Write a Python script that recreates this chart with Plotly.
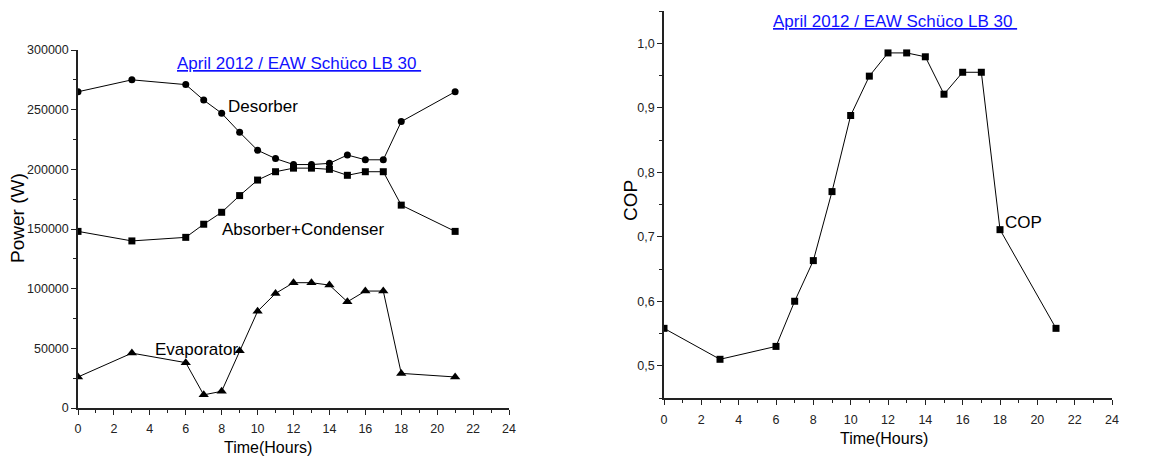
import plotly.graph_objects as go

hours = [0, 3, 6, 7, 8, 9, 10, 11, 12, 13, 14, 15, 16, 17, 18, 21]
desorber = [265000, 275000, 271000, 258000, 247000, 231000, 216000, 209000,
            204000, 204000, 205000, 212000, 208000, 208000, 240000, 265000]
absorber_condenser = [148000, 140000, 143000, 154000, 164000, 178000, 191000, 198000,
                      201000, 201000, 200000, 195000, 198000, 198000, 170000, 148000]
evaporator = [26000, 46000, 38000, 11000, 14000, 48000, 81000, 96000,
              105000, 105000, 103000, 89000, 98000, 98000, 29000, 26000]
cop = [0.558, 0.510, 0.530, 0.600, 0.663, 0.770, 0.888, 0.949,
       0.985, 0.985, 0.979, 0.921, 0.955, 0.955, 0.711, 0.558]

x_ticks = list(range(0, 25, 2))
x_ticklabels = [str(v) for v in x_ticks]
power_ticks = [0, 50000, 100000, 150000, 200000, 250000, 300000]
power_ticklabels = ["0", "50000", "100000", "150000", "200000", "250000", "300000"]
cop_ticks = [0.5, 0.6, 0.7, 0.8, 0.9, 1.0]
cop_ticklabels = ["0,5", "0,6", "0,7", "0,8", "0,9", "1,0"]

title_text = "April 2012 / EAW Schüco LB 30"

FONT = "Liberation Sans, Arial, sans-serif"
line = dict(color="black", width=1)

fig = go.Figure()
fig.add_trace(go.Scatter(x=hours, y=desorber, mode="lines+markers", line=line,
                         marker=dict(symbol="circle", size=7, color="black"),
                         xaxis="x", yaxis="y", name="Desorber"))
fig.add_trace(go.Scatter(x=hours, y=absorber_condenser, mode="lines+markers", line=line,
                         marker=dict(symbol="square", size=7, color="black"),
                         xaxis="x", yaxis="y", name="Absorber+Condenser"))
fig.add_trace(go.Scatter(x=hours, y=evaporator, mode="lines+markers", line=line,
                         marker=dict(symbol="triangle-up", size=9, color="black"),
                         xaxis="x", yaxis="y", name="Evaporator"))
fig.add_trace(go.Scatter(x=hours, y=cop, mode="lines+markers", line=line,
                         marker=dict(symbol="square", size=7, color="black"),
                         xaxis="x2", yaxis="y2", name="COP"))

# page body has an 8px margin: the figure starts at (8, 8) in the window
OFF = 8
W, H = 1160 - OFF, 459 - OFF

def px_x(p):
    return (p - OFF) / W

def px_y(p):
    return 1 - (p - OFF) / H

axis_common = dict(showgrid=False, zeroline=False, showline=True, linecolor="#222",
                   linewidth=1.5, ticks="outside", ticklen=5, tickwidth=1.2, tickcolor="#222",
                   automargin=False,
                   tickfont=dict(family=FONT, size=12.5, color="#222"))

fig.update_layout(
    width=W, height=H, autosize=False,
    margin=dict(l=0, r=0, t=0, b=0),
    paper_bgcolor="white", plot_bgcolor="white",
    showlegend=False,
    font=dict(family=FONT, color="black"),
    xaxis=dict(domain=[px_x(78), px_x(509)], range=[0, 24], anchor="y",
               tickmode="array", tickvals=x_ticks, ticktext=x_ticklabels, ticklabelstandoff=3,
               minor=dict(tickmode="linear", tick0=0, dtick=1, ticks="outside", ticklen=3, tickcolor="#222"),
               **axis_common),
    yaxis=dict(domain=[px_y(408), px_y(50)], range=[0, 300000], anchor="x",
               tickmode="array", tickvals=power_ticks, ticktext=power_ticklabels,
               minor=dict(tickmode="linear", tick0=0, dtick=25000, ticks="outside", ticklen=3, tickcolor="#222"),
               **axis_common),
    xaxis2=dict(domain=[px_x(664), px_x(1112)], range=[0, 24], anchor="y2",
                tickmode="array", tickvals=x_ticks, ticktext=x_ticklabels, ticklabelstandoff=4,
                minor=dict(tickmode="linear", tick0=0, dtick=1, ticks="outside", ticklen=3, tickcolor="#222"),
                **axis_common),
    yaxis2=dict(domain=[px_y(398), px_y(11)], range=[0.45, 1.05], anchor="x2",
                tickmode="array", tickvals=cop_ticks, ticktext=cop_ticklabels,
                minor=dict(tickmode="linear", tick0=0.45, dtick=0.05, ticks="outside", ticklen=3, tickcolor="#222"),
                **axis_common),
)

def ann(text, x, y, size, angle=0, color="black", xanchor="center"):
    fig.add_annotation(text=text, x=px_x(x), y=px_y(y), xref="paper", yref="paper",
                       showarrow=False, textangle=angle, xanchor=xanchor, yanchor="middle",
                       font=dict(family=FONT, size=size, color=color))

ann("<u>" + title_text + "&nbsp;</u>", 175, 63, 17, color="#1010ff", xanchor="left")
ann("<u>" + title_text + "&nbsp;</u>", 771, 22, 17, color="#1010ff", xanchor="left")
ann("Desorber", 226, 106, 17, xanchor="left")
ann("Absorber+Condenser", 220, 230, 17, xanchor="left")
ann("Evaporator", 153, 349, 17, xanchor="left")
ann("COP", 1003, 222, 17, xanchor="left")
ann("Time(Hours)", 268, 447, 16)
ann("Time(Hours)", 884, 438, 16)
ann("Power (W)", 18, 218, 19, angle=-90)
ann("COP", 630, 201, 19, angle=-90)

fig.write_html("out.html")
